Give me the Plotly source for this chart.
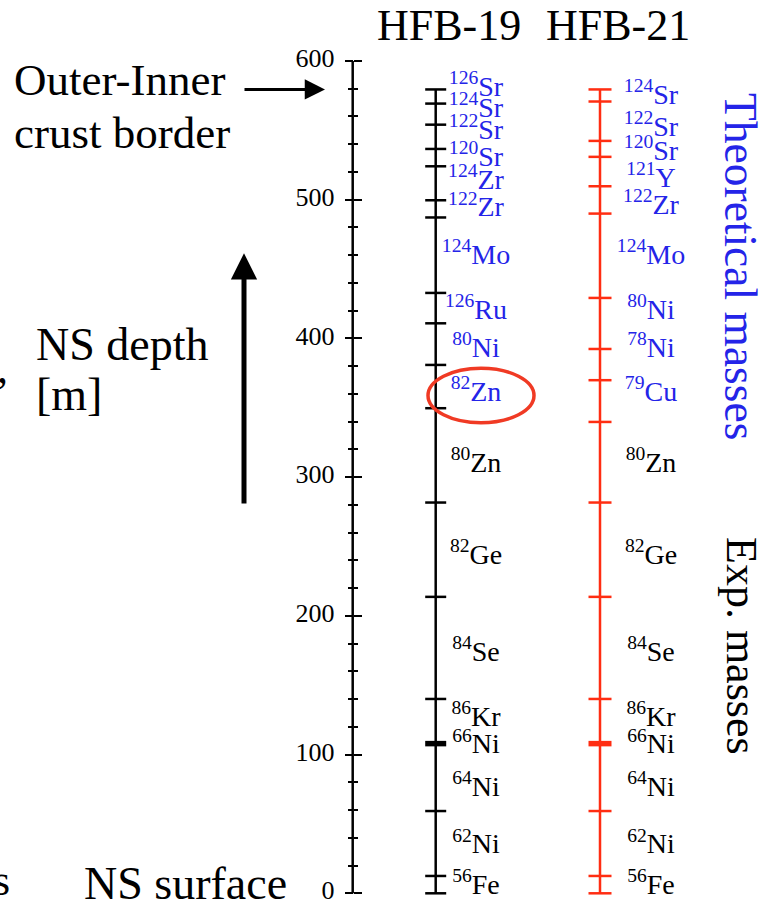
import plotly.graph_objects as go

# ---------------- data ----------------
depth_major = [0, 100, 200, 300, 400, 500, 600]
depth_minor = [20, 40, 60, 80, 120, 140, 160, 180, 220, 240, 260, 280,
               320, 340, 360, 380, 420, 440, 460, 480, 520, 540, 560, 580]

# layer boundaries (depth in m) for each mass model
hfb19_bounds = [0, 12.5, 59.3, 140.1, 213.7, 281.7, 349.7, 380.9, 410.9,
                432.8, 487.2, 499.6, 524.1, 536.6, 554.1, 569.3, 579.5]
hfb21_bounds = [0, 12.5, 59.3, 140.1, 213.7, 281.7, 339.8, 369.9, 392.4,
                429.2, 490.0, 509.7, 530.9, 542.4, 570.8, 579.5]
thick_bound = [107.9]
crust_top = 579.5

# experimentally known nuclei (common to both models)
exp_A = [56, 62, 64, 66, 86, 84, 82, 80]
exp_el = ["Fe", "Ni", "Ni", "Ni", "Kr", "Se", "Ge", "Zn"]
exp_depth = [4.6, 33.9, 75.5, 106.0, 126.0, 172.8, 242.5, 308.6]

# theoretical nuclei
hfb19_A = [82, 80, 126, 124, 122, 124, 120, 122, 124, 126]
hfb19_el = ["Zn", "Ni", "Ru", "Mo", "Zr", "Zr", "Sr", "Sr", "Sr", "Sr"]
hfb19_depth = [360.2, 391.5, 419.1, 458.8, 493.0, 512.8, 529.2, 548.9, 564.6, 580.0]

hfb21_A = [79, 78, 80, 124, 122, 121, 120, 122, 124]
hfb21_el = ["Cu", "Ni", "Ni", "Mo", "Zr", "Y", "Sr", "Sr", "Sr"]
hfb21_depth = [360.2, 391.5, 419.1, 458.8, 494.8, 514.5, 533.7, 551.3, 574.1]

# ---------------- style ----------------
W, H = 761, 900
SERIF = "Liberation Serif"
BLUE = "#2424e8"
RED = "#ff2d12"
BLACK = "#000000"
# y-axis: 600 m at pixel 61, 0 m at pixel 893.3
PX_PER_M = (893.3 - 61.0) / 600.0
Y_BOTTOM = -(H - 893.3) / PX_PER_M
Y_TOP = 893.3 / PX_PER_M
AX_X = 352.7
COL19_X, COL21_X = 435.7, 600.0
LAB19_X, LAB21_X = 476.0, 651.0
LAB_SIZE = 28


def px(x):
    return x / W


def py(y):
    return 1 - y / H


def tick_xy(xc, half, depths):
    xs, ys = [], []
    for d in depths:
        xs += [xc - half, xc + half, None]
        ys += [d, d, None]
    return xs, ys


fig = go.Figure()

# main depth axis line
fig.add_trace(go.Scatter(x=[AX_X, AX_X], y=[0, 600], mode="lines",
                         line=dict(color=BLACK, width=2.5), yaxis="y2",
                         hoverinfo="skip"))

# model columns
for xc, half, bounds, col in [(COL19_X, 10.5, hfb19_bounds, BLACK),
                              (COL21_X, 11.5, hfb21_bounds, RED)]:
    fig.add_trace(go.Scatter(x=[xc, xc], y=[0, crust_top], mode="lines",
                             line=dict(color=col, width=2.5), hoverinfo="skip"))
    tx, ty = tick_xy(xc, half, bounds)
    fig.add_trace(go.Scatter(x=tx, y=ty, mode="lines",
                             line=dict(color=col, width=2.5), hoverinfo="skip"))
    tx, ty = tick_xy(xc, half, thick_bound)
    fig.add_trace(go.Scatter(x=tx, y=ty, mode="lines",
                             line=dict(color=col, width=5.5), hoverinfo="skip"))


def labels(A, el):
    return [f"<sup>{a}</sup>{e}" for a, e in zip(A, el)]


for lx in (LAB19_X, LAB21_X):
    fig.add_trace(go.Scatter(x=[lx] * len(exp_depth), y=exp_depth, mode="text",
                             text=labels(exp_A, exp_el), textposition="middle center",
                             textfont=dict(family=SERIF, size=LAB_SIZE, color=BLACK),
                             cliponaxis=False, hoverinfo="skip"))
fig.add_trace(go.Scatter(x=[LAB19_X] * len(hfb19_depth), y=hfb19_depth, mode="text",
                         text=labels(hfb19_A, hfb19_el), textposition="middle center",
                         textfont=dict(family=SERIF, size=LAB_SIZE, color=BLUE),
                         cliponaxis=False, hoverinfo="skip"))
fig.add_trace(go.Scatter(x=[LAB21_X] * len(hfb21_depth), y=hfb21_depth, mode="text",
                         text=labels(hfb21_A, hfb21_el), textposition="middle center",
                         textfont=dict(family=SERIF, size=LAB_SIZE, color=BLUE),
                         cliponaxis=False, hoverinfo="skip"))

# red ellipse around 82Zn
fig.add_shape(type="circle", xref="x", yref="y",
              x0=LAB19_X - 48, x1=LAB19_X + 58,
              y0=hfb19_depth[0] - 21, y1=hfb19_depth[0] + 18.3,
              line=dict(color="#f03a24", width=3.5))

ann = []


def text(t, x, y, size, color=BLACK, xanchor="left", angle=0):
    ann.append(dict(text=t, x=px(x), y=py(y), xref="paper", yref="paper",
                    xanchor=xanchor, yanchor="middle", showarrow=False,
                    textangle=angle, font=dict(family=SERIF, size=size, color=color)))


text("HFB-19", 449, 25, 44, xanchor="center")
text("HFB-21", 617.5, 25, 44, xanchor="center")
text("Outer-Inner", 12, 80, 45)
text("crust border", 12, 133, 45)
text("NS depth", 34, 344, 46)
text("[m]", 34, 394, 46)
text("NS surface", 82, 883, 46)
text("s", 12, 880, 44, xanchor="right")
text(",", 10, 368, 44, xanchor="right")
text("Theoretical masses", 741, 266, 45.5, color=BLUE, xanchor="center", angle=90)
text("Exp. masses", 742, 646, 44, xanchor="center", angle=90)

# arrows
ann.append(dict(x=325, y=crust_top, ax=243, ay=crust_top, xref="x", yref="y",
                axref="x", ayref="y", text="", showarrow=True, arrowhead=2,
                arrowwidth=3, arrowsize=1.35, arrowcolor=BLACK))
ann.append(dict(x=244, y=461.4, ax=244, ay=279.9, xref="x", yref="y",
                axref="x", ayref="y", text="", showarrow=True, arrowhead=2,
                arrowwidth=5, arrowsize=1.05, arrowcolor=BLACK))

axis_common = dict(range=[Y_BOTTOM, Y_TOP], showgrid=False, zeroline=False,
                   showline=False, anchor="free", position=px(AX_X),
                   tickmode="array", tickvals=depth_major, ticklen=8,
                   tickwidth=2, tickcolor=BLACK, automargin=False)

fig.update_layout(
    width=W, height=H, margin=dict(l=0, r=0, t=0, b=0),
    paper_bgcolor="white", plot_bgcolor="white", showlegend=False,
    xaxis=dict(range=[0, W], visible=False),
    yaxis=dict(**axis_common, ticks="outside", side="left",
               tickfont=dict(family=SERIF, size=26, color=BLACK),
               ticklabelstandoff=5, ticklabelshift=-3, ticklabeloverflow="allow",
               minor=dict(tickmode="array", tickvals=depth_minor, ticks="outside",
                          ticklen=4.5, tickwidth=2, tickcolor=BLACK, showgrid=False)),
    yaxis2=dict(**axis_common, ticks="inside", side="left", overlaying="y",
                showticklabels=False,
                minor=dict(tickmode="array", tickvals=depth_minor, ticks="inside",
                           ticklen=4.5, tickwidth=2, tickcolor=BLACK, showgrid=False)),
    annotations=ann,
)

fig.write_html("out.html")
